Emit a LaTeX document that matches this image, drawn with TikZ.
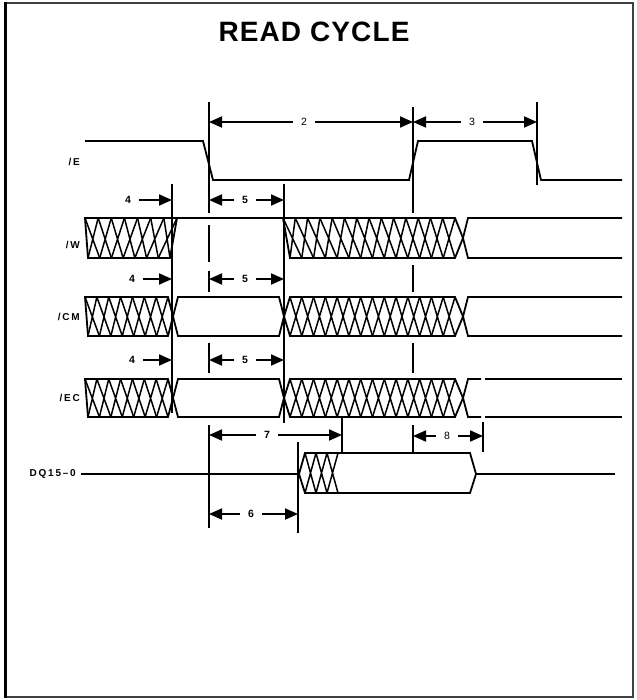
\documentclass[tikz,border=0pt]{standalone}
\usepackage{fontspec}
\setmainfont{Liberation Sans}
\usetikzlibrary{arrows.meta}
\tikzset{
  sig/.style={line width=1.8pt, line join=miter},
  hatchl/.style={line width=1.5pt},
  vline/.style={line width=1.8pt},
  dimarrow/.style={line width=1.8pt, -{Triangle[length=13pt,width=11pt]}},
  numb/.style={font=\bfseries\fontsize{10.5}{11}\selectfont, inner xsep=8pt, inner ysep=0pt},
  numr/.style={font=\fontsize{10.5}{11}\selectfont, inner xsep=8pt, inner ysep=0pt},
  siglab/.style={font=\bfseries\fontsize{10}{11}\selectfont\addfontfeature{LetterSpace=18}, anchor=east, inner sep=0pt},
}
\newcommand\xhatch[7]{%
  \pgfmathtruncatemacro\hn{#7-1}%
  \foreach \i in {0,...,\hn}{%
    \pgfmathsetmacro\tA{#1+(#2-#1)*\i/#7}%
    \pgfmathsetmacro\tB{#1+(#2-#1)*(\i+1)/#7}%
    \pgfmathsetmacro\bA{#3+(#4-#3)*\i/#7}%
    \pgfmathsetmacro\bB{#3+(#4-#3)*(\i+1)/#7}%
    \draw[hatchl] (\tA,#5) -- (\bB,#6) (\tB,#5) -- (\bA,#6);
  }}
\begin{document}
\begin{tikzpicture}[x=1pt,y=-1pt]
\useasboundingbox (0,0) rectangle (636,700);
% frame
\draw[line width=1.4pt, black!75] (6,3) rectangle (633,697);
\draw[line width=3pt] (5.5,2.3) -- (5.5,697.7);
% title
\node[font=\bfseries\fontsize{28}{30}\selectfont\addfontfeature{LetterSpace=4}] (title) at (314,32) {READ CYCLE};
% signal labels
\node[siglab] (lE) at (80,162) {/E};
\node[siglab] (lW) at (80,245) {/W};
\node[siglab] (lCM) at (80,317) {/CM};
\node[siglab] (lEC) at (80,398) {/EC};
\node[siglab] (lDQ) at (76,474) {DQ15–0};

% /E
\draw[sig] (85,141) -- (203,141) -- (213,180) -- (409,180) -- (418,141) -- (532,141) -- (541,180) -- (622,180);

% /W
\xhatch{85}{177}{88}{170}{218}{258}{7}
\draw[sig] (85,218) -- (88,258) -- (170,258) -- (177,218) -- cycle;
\draw[sig] (177,218) -- (283,218);
\xhatch{283}{455}{290}{455}{218}{258}{14}
\draw[sig] (283,218) -- (455,218) -- (463,238) -- (455,258) -- (290,258) -- cycle;
\draw[sig] (622,218) -- (468,218) -- (463,238) -- (468,258) -- (622,258);

% /CM
\xhatch{85}{168}{88}{168}{297}{336}{7}
\draw[sig] (85,297) -- (168,297) -- (173,316.5) -- (168,336) -- (88,336) -- cycle;
\draw[sig] (173,316.5) -- (178,297) -- (279,297) -- (284,316.5) -- (279,336) -- (178,336) -- cycle;
\xhatch{290}{455}{290}{455}{297}{336}{14}
\draw[sig] (284,316.5) -- (290,297) -- (455,297) -- (463,316.5) -- (455,336) -- (290,336) -- cycle;
\draw[sig] (622,297) -- (468,297) -- (463,316.5) -- (468,336) -- (622,336);

% /EC
\xhatch{85}{168}{88}{168}{379}{417}{7}
\draw[sig] (85,379) -- (168,379) -- (173,398) -- (168,417) -- (88,417) -- cycle;
\draw[sig] (173,398) -- (178,379) -- (279,379) -- (284,398) -- (279,417) -- (178,417) -- cycle;
\xhatch{290}{455}{290}{455}{379}{417}{14}
\draw[sig] (284,398) -- (290,379) -- (455,379) -- (463,398) -- (455,417) -- (290,417) -- cycle;
\draw[sig] (481,379) -- (468,379) -- (463,398) -- (468,417) -- (481,417);
\draw[sig] (485,379) -- (622,379) (485,417) -- (622,417);

% DQ15-0
\draw[sig] (lDQ.east) ++(5,0) -- (299,474);
\xhatch{305}{338}{305}{338}{453}{493}{3}
\draw[sig] (299,474) -- (305,453) -- (470,453) -- (476,474) -- (470,493) -- (305,493) -- cycle;
\draw[sig] (476,474) -- (615,474);

% vertical reference lines
\draw[vline] (172,184) -- (172,413);
\draw[vline] (209,102) -- (209,213) (209,225) -- (209,262) (209,271) -- (209,292) (209,343) -- (209,373) (209,425) -- (209,528);
\draw[vline] (284,184) -- (284,423);
\draw[vline] (413,107) -- (413,213) (413,265) -- (413,292) (413,343) -- (413,373) (413,425) -- (413,453);
\draw[vline] (537,102) -- (537,185);
\draw[vline] (342,418) -- (342,453);
\draw[vline] (298,442) -- (298,533);
\draw[vline] (483,422) -- (483,452);

% timing labels and arrows
\node[numr] (t2) at (304,122) {2};
\draw[dimarrow] (t2.west) -- (209,122);
\draw[dimarrow] (t2.east) -- (413,122);
\node[numr] (t3) at (472,122) {3};
\draw[dimarrow] (t3.west) -- (413,122);
\draw[dimarrow] (t3.east) -- (537,122);

\node[numb] (t4a) at (128,200) {4};
\draw[dimarrow] (t4a.east) -- (172,200);
\node[numb] (t5a) at (245,200) {5};
\draw[dimarrow] (t5a.west) -- (209,200);
\draw[dimarrow] (t5a.east) -- (284,200);

\node[numb] (t4b) at (132,279) {4};
\draw[dimarrow] (t4b.east) -- (172,279);
\node[numb] (t5b) at (245,279) {5};
\draw[dimarrow] (t5b.west) -- (209,279);
\draw[dimarrow] (t5b.east) -- (284,279);

\node[numb] (t4c) at (132,360) {4};
\draw[dimarrow] (t4c.east) -- (172,360);
\node[numb] (t5c) at (245,360) {5};
\draw[dimarrow] (t5c.west) -- (209,360);
\draw[dimarrow] (t5c.east) -- (284,360);

\node[numb] (t7) at (267,435) {7};
\draw[dimarrow] (t7.west) -- (209,435);
\draw[dimarrow] (t7.east) -- (342,435);
\node[numr] (t8) at (447,436) {8};
\draw[dimarrow] (t8.west) -- (413,436);
\draw[dimarrow] (t8.east) -- (483,436);

\node[numb] (t6) at (251,514) {6};
\draw[dimarrow] (t6.west) -- (209,514);
\draw[dimarrow] (t6.east) -- (298,514);
\end{tikzpicture}
\end{document}
